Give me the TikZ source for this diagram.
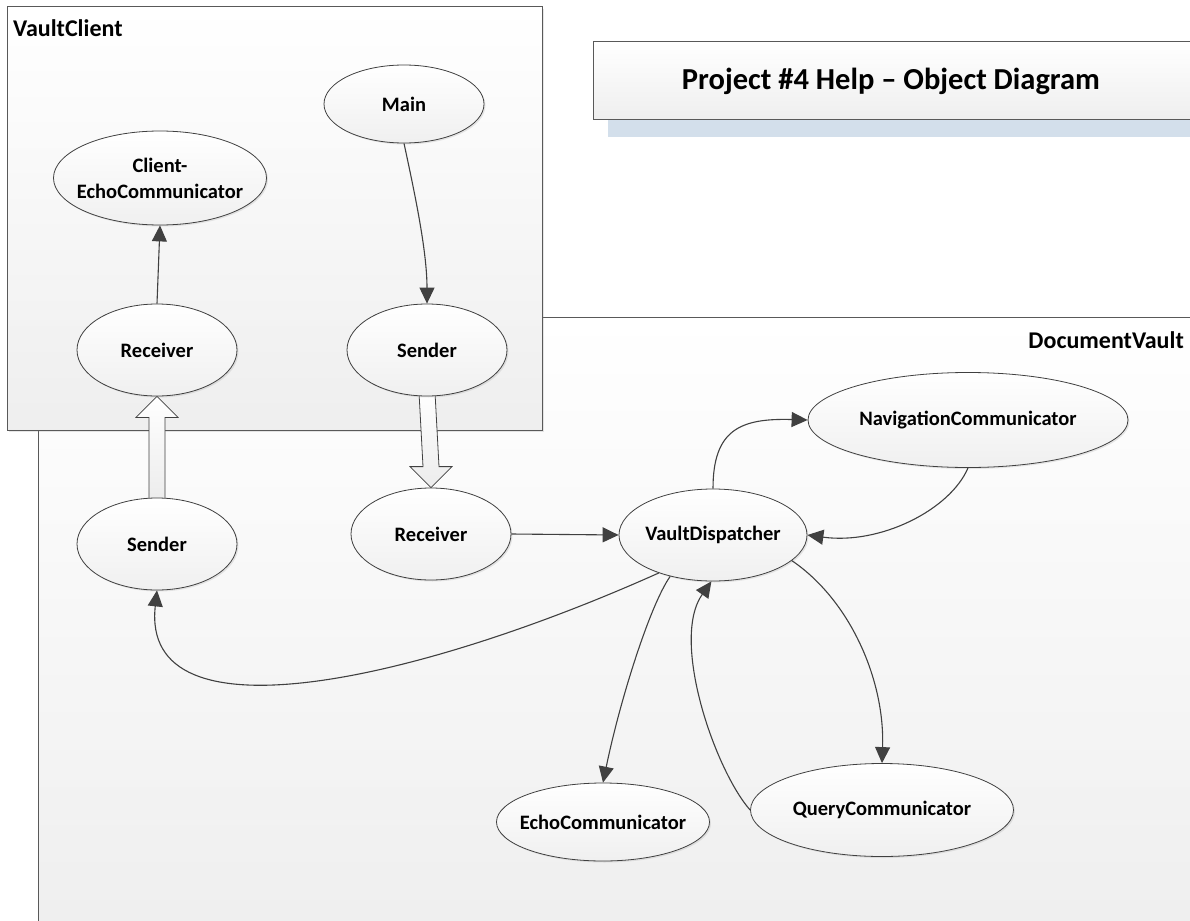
\documentclass[tikz,border=0pt]{standalone}
\usepackage{fontspec}
\setmainfont{Carlito}
\usetikzlibrary{shapes.geometric,arrows.meta,shadows,calc}
\definecolor{linec}{HTML}{404040}
\definecolor{bordc}{HTML}{595959}
\definecolor{shadowblue}{HTML}{D3DFEB}
\pgfdeclarelayer{bg}
\pgfsetlayers{bg,main}
\begin{document}
\begin{tikzpicture}[x=1pt,y=-1pt,
  obj/.style={ellipse, draw=linec, line width=0.8pt, top color=white, bottom color=gray!12,
    inner sep=0pt, font=\fontsize{20.5}{26}\selectfont\bfseries, align=center,
    drop shadow={shadow xshift=1.5pt, shadow yshift=-1.5pt, opacity=0.18}},
  conn/.style={draw=linec, line width=1.1pt, -{Triangle[length=16pt,width=15pt]}},
  fat/.style={draw=linec, line width=0.8pt, top color=white, bottom color=gray!15},
  container/.style={draw=bordc, line width=1pt, top color=white, bottom color=gray!13,
    drop shadow={shadow xshift=2pt, shadow yshift=-2pt, opacity=0.2}},
  lbl/.style={font=\fontsize{24}{28}\selectfont\bfseries, inner sep=0pt}
]
\useasboundingbox (0,0) rectangle (1190,920);
\clip (0,0) rectangle (1190,920);

% objects
\node[obj, minimum width=160pt, minimum height=78pt] (main) at (404,104) {Main};
\node[obj, inner xsep=-10pt, minimum width=213pt, minimum height=94pt] (cecho) at (160,178) {Client-\\EchoCommunicator};
\node[obj, minimum width=160pt, minimum height=92pt] (rcvc) at (157,350) {Receiver};
\node[obj, minimum width=160pt, minimum height=92pt] (sndc) at (427,350) {Sender};
\node[obj, minimum width=160pt, minimum height=92pt] (sndv) at (157,544) {Sender};
\node[obj, minimum width=160pt, minimum height=92pt] (rcvv) at (431,534) {Receiver};
\node[obj, inner xsep=-2pt, minimum width=188pt, minimum height=92pt] (vd) at (713,535) {VaultDispatcher};
\node[obj, minimum width=320pt, minimum height=95pt] (nav) at (968,420) {NavigationCommunicator};
\node[obj, minimum width=263pt, minimum height=93pt] (qc) at (882,810) {QueryCommunicator};
\node[obj, inner xsep=-10pt, minimum width=213pt, minimum height=78pt] (echo) at (603,822) {EchoCommunicator};

% labels
\node[lbl, anchor=west] (vclabel) at (13,28) {VaultClient};
\node[lbl, anchor=east] (dvlabel) at (1184,340) {DocumentVault};
\node[font=\fontsize{30.5}{34}\selectfont\bfseries, inner sep=0pt] (title) at (891,81) {Project \#4 Help -- Object Diagram};

\begin{pgfonlayer}{bg}
  \path[container] (38,317) rectangle (1210,940);
  \path[container] (7,7) rectangle (542,430);
  \fill[shadowblue] (608,120) rectangle (1210,137);
  \path[draw=bordc, line width=1pt, top color=white, bottom color=gray!13] (593,42) rectangle (1210,120);
  % fat arrows
  \path[fat] ($(sndc.south)+(-8,-4)$) -- ($(sndc.south)+(8,-4)$) -- ($(rcvv.north)+(8,-21)$)
    -- ($(rcvv.north)+(21,-21)$) -- (rcvv.north) -- ($(rcvv.north)+(-21,-21)$)
    -- ($(rcvv.north)+(-8,-21)$) -- cycle;
  \path[fat] ($(sndv.north)+(-8,4)$) -- ($(sndv.north)+(8,4)$) -- ($(rcvc.south)+(8,21)$)
    -- ($(rcvc.south)+(21,21)$) -- (rcvc.south) -- ($(rcvc.south)+(-21,21)$)
    -- ($(rcvc.south)+(-8,21)$) -- cycle;
\end{pgfonlayer}

% connectors
\draw[conn] (rcvc.north) -- (cecho.south);
\draw[conn] (main.south) .. controls (414,190) and (427,250) .. (sndc.north);
\draw[conn] (rcvv.east) -- (vd.west);
\draw[conn] (vd.north) .. controls (713,430) and (740,418) .. (nav.west);
\draw[conn] (nav.south) .. controls (950,510) and (880,545) .. (vd.east);
\draw[conn] (vd.-145) .. controls (420,680) and (140,745) .. (sndv.south);
\draw[conn] (vd.-136) .. controls (650,605) and (620,700) .. (echo.north);
\draw[conn] (vd.-18) .. controls (850,600) and (885,680) .. (qc.north);
\draw[conn] (qc.west) .. controls (715,770) and (670,640) .. (vd.-92);
\end{tikzpicture}
\end{document}
